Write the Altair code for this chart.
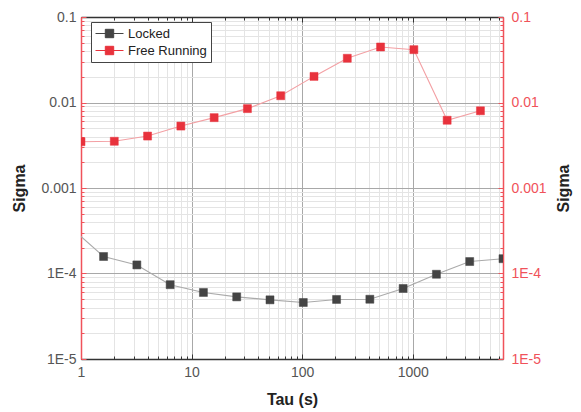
import altair as alt
import pandas as pd

# ---- data ----
tau_locked = [0.8, 1.6, 3.2, 6.4, 12.8, 25.6, 51.2, 102.4, 204.8, 409.6, 819.2, 1638.4, 3276.8, 6553.6]
sigma_locked = [3.5e-4, 1.58e-4, 1.26e-4, 7.4e-5, 6.0e-5, 5.33e-5, 4.92e-5, 4.58e-5, 4.97e-5, 5.0e-5,
                6.68e-5, 9.8e-5, 1.38e-4, 1.49e-4]
tau_free = [1, 2, 4, 8, 16, 32, 64, 128, 256, 512, 1024, 2048, 4096]
sigma_free = [0.00348, 0.00352, 0.00405, 0.0053, 0.00665, 0.00848, 0.012, 0.0202, 0.0329, 0.0446,
              0.0415, 0.0062, 0.0080]
series_names = ["Locked", "Free Running"]

x_major_labels = ["1", "10", "100", "1000"]
y_major_labels = ["1E-5", "1E-4", "0.001", "0.01", "0.1"]

x_domain = [1, 6553.6]
y_domain = [1e-5, 0.1]

# tick positions (1..9 x each decade)
x_ticks = [m * 10 ** k for k in range(0, 4) for m in range(1, 10) if m * 10 ** k <= 6553.6]
y_ticks = [m * 10.0 ** k for k in range(-5, -1) for m in range(1, 10)] + [0.1]

W, H = 422, 342
RED = "#f0525a"
MARKER_COLORS = ["#444444", "#e8323c"]
LINE_LOCKED = "#aaaaaa"
LINE_FREE = "#f3a0a4"
FONT = "Liberation Sans"

df = pd.DataFrame(
    {"tau": tau_locked + tau_free,
     "sigma": sigma_locked + sigma_free,
     "series": [series_names[0]] * len(tau_locked) + [series_names[1]] * len(tau_free)}
)

major = "abs(log(datum.value)/LN10 - round(log(datum.value)/LN10)) < 0.001"
x_label_expr = f"{major} ? {x_major_labels!r}[round(log(datum.value)/LN10)] : ''"
y_label_expr = f"{major} ? {y_major_labels!r}[round(log(datum.value)/LN10)+5] : ''"
grid_color = {"condition": {"test": major, "value": "#a8a8a8"}, "value": "#e4e4e4"}
tick_size = {"condition": {"test": major, "value": 5}, "value": 3}

xs = alt.Scale(type="log", domain=x_domain, nice=False)
ys = alt.Scale(type="log", domain=y_domain, nice=False)

base = alt.Chart(df)

# Layer 1: locked line, main bottom/left axes with labels and grid
locked_line = base.transform_filter(alt.datum.series == series_names[0]).mark_line(
    color=LINE_LOCKED, strokeWidth=1.1, clip=True
).encode(
    x=alt.X("tau:Q", scale=xs, axis=alt.Axis(
        orient="bottom", values=x_ticks, labelExpr=x_label_expr, grid=True, gridColor=grid_color,
        ticks=False, domain=True, domainColor="#333333", domainWidth=1.5,
        labelFontSize=14, labelColor="#555555", labelFont=FONT, labelPadding=6, labelFlush=False,
        labelOverlap=False,
        title="Tau (s)", titleFontSize=16, titleFont=FONT, titleFontWeight="bold", titleColor="#222222",
        titleY=32, titleBaseline="top")),
    y=alt.Y("sigma:Q", scale=ys, axis=alt.Axis(
        orient="left", values=y_ticks, labelExpr=y_label_expr, grid=True, gridColor=grid_color,
        ticks=False, domain=True, domainColor=RED, domainWidth=1.5,
        labelFontSize=14, labelColor="#555555", labelFont=FONT, labelPadding=5, labelOverlap=False,
        labelFlush=False,
        title="Sigma", titleFontSize=16, titleFont=FONT, titleFontWeight="bold", titleColor="#222222",
        titleX=-62, titleBaseline="middle", titleAngle=270)),
)

# Layer 2: free line, inward ticks on bottom and left
free_line = base.transform_filter(alt.datum.series == series_names[1]).mark_line(
    color=LINE_FREE, strokeWidth=1.1, clip=True
).encode(
    x=alt.X("tau:Q", scale=xs, axis=alt.Axis(
        orient="top", offset=-H, values=x_ticks, labels=False, grid=False, domain=False,
        ticks=True, tickColor="#333333", tickSize=tick_size, tickWidth=1, title=None)),
    y=alt.Y("sigma:Q", scale=ys, axis=alt.Axis(
        orient="right", offset=-W, values=y_ticks, labels=False, grid=False, domain=False,
        ticks=True, tickColor=RED, tickSize=tick_size, tickWidth=1, title=None)),
)

# legend symbol: a short line with a square at its middle (drawn right of the symbol centre)
legend = alt.Legend(
    title=None, orient="none", legendX=10, legendY=5,
    symbolType="M-1,0H3M0.4,-0.6H1.6V0.6H0.4Z", symbolSize=196, symbolStrokeWidth=1,
    labelFontSize=13, labelFont=FONT, labelColor="#222222", labelOffset=18,
    padding=4, rowPadding=2, strokeColor="#444444", fillColor="white", cornerRadius=0,
)
color_scale = alt.Scale(domain=series_names, range=MARKER_COLORS)

# Layer 3: locked markers, inward ticks on top and right, top/right domain lines
locked_pts = base.transform_filter(alt.datum.series == series_names[0]).mark_square(
    size=64, opacity=1, strokeWidth=0.5, clip=True
).encode(
    x=alt.X("tau:Q", scale=xs, axis=alt.Axis(
        orient="bottom", offset=-H, values=x_ticks, labels=False, grid=False, domain=True,
        domainColor="#333333", domainWidth=1.5,
        ticks=True, tickColor="#333333", tickSize=tick_size, tickWidth=1, title=None)),
    y=alt.Y("sigma:Q", scale=ys, axis=alt.Axis(
        orient="left", offset=-W, values=y_ticks, labels=False, grid=False, domain=True,
        domainColor=RED, domainWidth=1.5,
        ticks=True, tickColor=RED, tickSize=tick_size, tickWidth=1, title=None)),
    fill=alt.Fill("series:N", scale=color_scale, legend=legend),
    stroke=alt.Stroke("series:N", scale=color_scale, legend=legend),
)

# Layer 4: free markers, right axis labels
free_pts = base.transform_filter(alt.datum.series == series_names[1]).mark_square(
    size=64, opacity=1, strokeWidth=0.5, clip=True
).encode(
    x=alt.X("tau:Q", scale=xs, axis=None),
    y=alt.Y("sigma:Q", scale=ys, axis=alt.Axis(
        orient="right", values=y_ticks, labelExpr=y_label_expr, grid=False, domain=False, ticks=False,
        labelFontSize=14, labelColor=RED, labelFont=FONT, labelPadding=8, labelOverlap=False,
        labelFlush=False,
        title="Sigma", titleFontSize=16, titleFont=FONT, titleFontWeight="bold", titleColor="#222222",
        titleX=60, titleBaseline="middle", titleAngle=270)),
    fill=alt.Fill("series:N", scale=color_scale, legend=legend),
    stroke=alt.Stroke("series:N", scale=color_scale, legend=legend),
)

chart = alt.layer(locked_line, free_line, locked_pts, free_pts).resolve_axis(
    x="independent", y="independent"
).properties(
    width=W, height=H,
    padding={"left": 81, "top": 17, "right": 78, "bottom": 53},
    autosize=alt.AutoSizeParams(type="none"),
    background="white",
).configure_view(stroke="transparent")

chart.save("out.html", embed_options={"renderer": "svg", "actions": False})
